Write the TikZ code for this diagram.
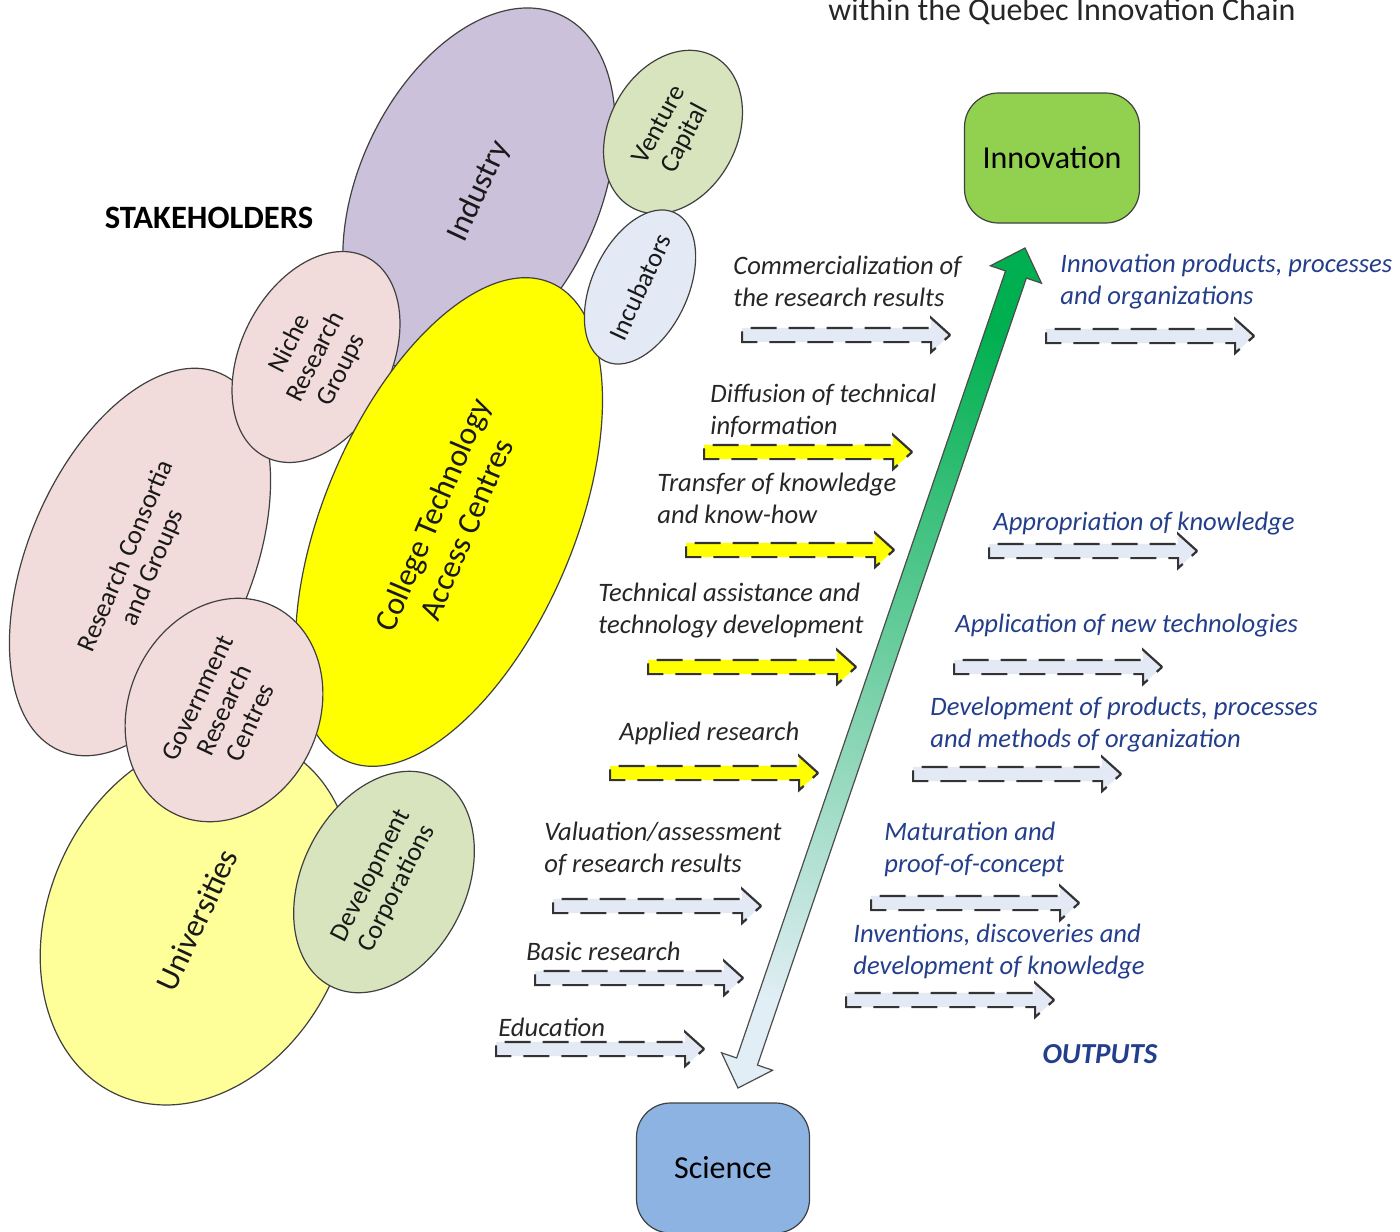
\documentclass[tikz,border=0pt]{standalone}
\usepackage{fontspec}
\setmainfont{Carlito}
\usepackage{xcolor}
\usepackage{tikz}
\usetikzlibrary{shapes.geometric, shapes.arrows, calc, positioning}

\definecolor{indcol}{HTML}{CCC1DA}
\definecolor{vccol}{HTML}{D7E4BD}
\definecolor{inccol}{HTML}{E4EAF5}
\definecolor{pinkcol}{HTML}{F2DCDB}
\definecolor{ctacol}{HTML}{FFFF00}
\definecolor{unicol}{HTML}{FFFF99}
\definecolor{inncol}{HTML}{92D050}
\definecolor{scicol}{HTML}{8DB3E2}
\definecolor{flowcol}{HTML}{E3EAF5}
\definecolor{upgreen}{HTML}{00B050}
\definecolor{lowblue}{HTML}{E2EEF6}
\definecolor{labgray}{HTML}{262626}
\definecolor{outblue}{HTML}{233E8B}

\begin{document}
\begin{tikzpicture}[x=0.5pt, y=-0.5pt,
  blob/.style={ellipse, draw=black!75, line width=0.6pt, inner sep=0pt, align=center, text=black!90},
  small/.style={font=\fontsize{13.2}{14.5}\selectfont},
  big/.style={font=\fontsize{16}{18.5}\selectfont},
  box/.style={draw=black!75, line width=0.6pt, rounded corners=17pt, minimum height=65pt, font=\fontsize{16}{18}\selectfont},
  flow/.style={single arrow, draw=black!80, line width=1.1pt, dash pattern=on 13pt off 6pt,
    single arrow head extend=5pt, single arrow tip angle=84, single arrow head indent=0pt,
    minimum height=104pt, inner xsep=0pt, inner ysep=3pt, text height=0pt, text depth=0pt, anchor=tail},
  lab/.style={font=\fontsize{13.3}{16}\selectfont\itshape, text=labgray, align=left, anchor=west, inner sep=0pt},
  outlab/.style={lab, text=outblue}]
\useasboundingbox (0,0) rectangle (1400,1231);

% titles
\node[font=\fontsize{16}{18}\selectfont, text=labgray] (title) at (1062,12) {within the Quebec Innovation Chain};
\node[font=\fontsize{16.3}{18}\selectfont\bfseries, text=black] (stake) at (209,218) {STAKEHOLDERS};

% stakeholders
\node[blob, fill=indcol, rotate=65, minimum width=194pt, minimum height=120pt, big] (ind) at (479,191) {Industry};
\node[blob, fill=vccol, rotate=62, minimum width=86pt, minimum height=64pt, small] (vc) at (673,132) {Venture\\Capital};
\node[blob, fill=pinkcol, rotate=67, minimum width=205pt, minimum height=112pt, small] (cons) at (140,562) {Research Consortia\\and Groups};
\node[blob, fill=pinkcol, rotate=63, minimum width=112pt, minimum height=75pt, small] (niche) at (316,357) {Niche\\Research\\Groups};
\node[blob, fill=unicol, rotate=65, minimum width=192pt, minimum height=148pt, big] (uni) at (197,920) {Universities};
\node[blob, fill=ctacol, rotate=67, minimum width=260pt, minimum height=125pt, big] (ccta) at (449,522) {College Technology\\Access Centres};
\node[blob, fill=inccol, rotate=65, minimum width=82pt, minimum height=48pt, small] (incub) at (640,287) {Incubators};
\node[blob, fill=pinkcol, rotate=65, minimum width=115pt, minimum height=95pt, small] (gov) at (224,710) {Government\\Research\\Centres};
\node[blob, fill=vccol, rotate=63, minimum width=117pt, minimum height=82pt, small] (dev) at (384,882) {Development\\Corporations};

% innovation chain
\node[box, fill=inncol, minimum width=87.5pt] (inn) at (1052,158) {Innovation};
\node[box, fill=scicol, minimum width=86.5pt] (sci) at (723,1168) {Science};
\coordinate (lo) at (738,1088);
\coordinate (hi) at (1025,248);
\draw[black!70, line width=0.6pt, top color=upgreen, bottom color=lowblue, shading angle=-19]
  (lo) -- ($(lo)!14pt!(hi)!13.5pt!90:(hi)$) -- ($(lo)!14pt!(hi)!5.5pt!90:(hi)$)
  -- ($(hi)!14pt!(lo)!5.5pt!-90:(lo)$) -- ($(hi)!14pt!(lo)!13.5pt!-90:(lo)$)
  -- (hi) -- ($(hi)!14pt!(lo)!13.5pt!90:(lo)$) -- ($(hi)!14pt!(lo)!5.5pt!90:(lo)$)
  -- ($(lo)!14pt!(hi)!5.5pt!-90:(hi)$) -- ($(lo)!14pt!(hi)!13.5pt!-90:(hi)$) -- cycle;

% inputs
\node[lab] (t1) at (733,281) {Commercialization of\\the research results};
\node[flow, fill=flowcol] (a1) at (741,335) {};
\node[lab] (t2) at (710,411) {Diffusion of technical\\information};
\node[flow, fill=ctacol] (a2) at (703,452) {};
\node[lab] (t3) at (657,498) {Transfer of knowledge\\and know-how};
\node[flow, fill=ctacol] (a3) at (685,550) {};
\node[lab] (t4) at (598,611) {Technical assistance and\\technology development};
\node[flow, fill=ctacol] (a4) at (647,667) {};
\node[lab] (t5) at (619,733) {Applied research};
\node[flow, fill=ctacol] (a5) at (609,773) {};
\node[lab] (t6) at (544,849) {Valuation/assessment\\of research results};
\node[flow, fill=flowcol] (a6) at (552,906) {};
\node[lab] (t7) at (526,951) {Basic research};
\node[flow, fill=flowcol] (a7) at (534,978) {};
\node[lab] (t8) at (498,1027) {Education};
\node[flow, fill=flowcol] (a8) at (495,1049) {};

% outputs
\node[outlab] (o1) at (1060,282) {Innovation products, processes\\and organizations};
\node[flow, fill=flowcol] (b1) at (1045,336) {};
\node[outlab] (o2) at (993,524) {Appropriation of knowledge};
\node[flow, fill=flowcol] (b2) at (988,551) {};
\node[outlab] (o3) at (955,626) {Application of new technologies};
\node[flow, fill=flowcol] (b3) at (953,667) {};
\node[outlab] (o4) at (930,725) {Development of products, processes\\and methods of organization};
\node[flow, fill=flowcol] (b4) at (912,774) {};
\node[outlab] (o5) at (884,849) {Maturation and\\proof-of-concept};
\node[flow, fill=flowcol] (b5) at (870,903) {};
\node[outlab] (o6) at (853,952) {Inventions, discoveries and\\development of knowledge};
\node[flow, fill=flowcol] (b6) at (845,1000) {};
\node[font=\fontsize{14.5}{16}\selectfont\bfseries\itshape, text=outblue] (outs) at (1100,1054) {OUTPUTS};
\end{tikzpicture}
\end{document}
